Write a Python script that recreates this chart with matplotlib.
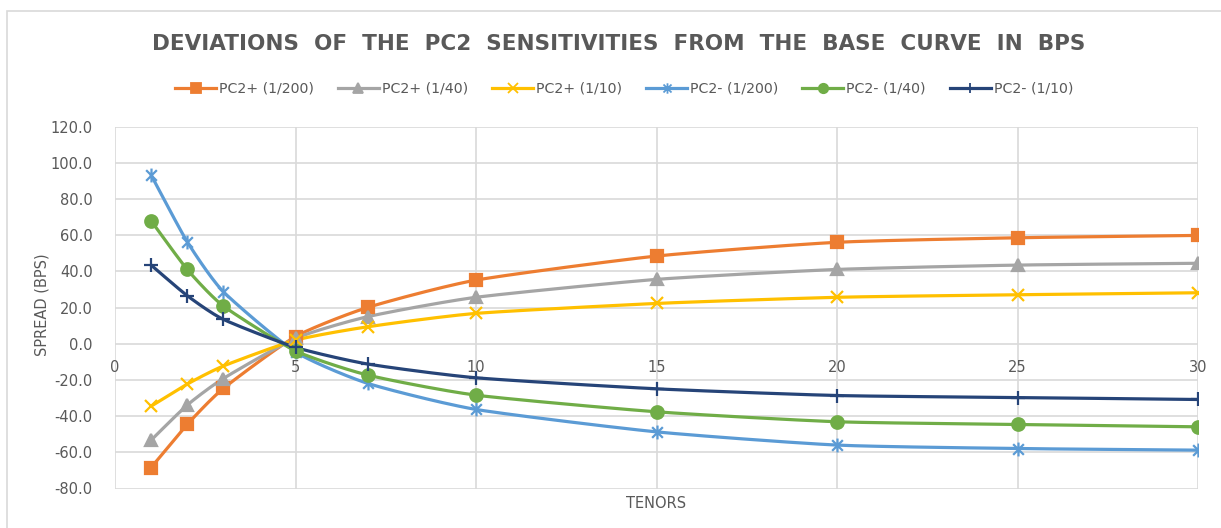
import numpy as np
import matplotlib
matplotlib.use("Agg")
import matplotlib.pyplot as plt
from matplotlib.lines import Line2D
from matplotlib.path import Path
from matplotlib.patches import Rectangle

# data
tenors = [1, 2, 3, 5, 7, 10, 15, 20, 25, 30]
pc2_up_200 = [-68.4, -44.6, -24.7, 4.0, 20.1, 35.2, 48.5, 56.1, 58.6, 59.9]
pc2_up_40 = [-53.3, -33.9, -19.2, 3.0, 15.0, 25.7, 35.6, 41.1, 43.5, 44.5]
pc2_up_10 = [-34.5, -22.3, -12.3, 2.0, 9.4, 16.8, 22.3, 25.7, 27.1, 28.2]
pc2_dn_200 = [93.3, 56.4, 28.8, -4.5, -21.9, -36.3, -48.7, -56.0, -57.9, -58.8]
pc2_dn_40 = [68.0, 41.1, 20.9, -3.9, -17.3, -28.4, -37.6, -43.1, -44.6, -45.9]
pc2_dn_10 = [43.5, 26.6, 13.5, -2.0, -11.2, -18.8, -24.9, -28.6, -29.7, -30.8]

labels = ["PC2+ (1/200)", "PC2+ (1/40)", "PC2+ (1/10)",
          "PC2- (1/200)", "PC2- (1/40)", "PC2- (1/10)"]
series = [pc2_up_200, pc2_up_40, pc2_up_10, pc2_dn_200, pc2_dn_40, pc2_dn_10]

# asterisk marker like excel's star (x plus vertical bar)
star = Path([(-1, -1), (1, 1), (-1, 1), (1, -1), (0, -1.3), (0, 1.3)],
            [Path.MOVETO, Path.LINETO, Path.MOVETO, Path.LINETO, Path.MOVETO, Path.LINETO])

colors = ["#ED7D31", "#A5A5A5", "#FFC000", "#5B9BD5", "#70AD47", "#264478"]
markers = ["s", "^", "x", star, "o", "+"]
msizes = [9, 9, 9, 10, 9, 10]

TXT = "#595959"
GRID = "#D9D9D9"


def smooth(xs, ys, sx=36.1, sy=1.808, n=24, k=10.):
	# bezier smoothing similar to excel's "smoothed line"
	P = np.column_stack([np.asarray(xs, float) * sx, np.asarray(ys, float) * sy])
	out = []
	m = len(P)
	for i in range(m - 1):
		p0 = P[max(i - 1, 0)]
		p1 = P[i]
		p2 = P[i + 1]
		p3 = P[min(i + 2, m - 1)]
		c1 = p1 + (p2 - p0) / k
		c2 = p2 - (p3 - p1) / k
		t = np.linspace(0, 1, n)[:, None]
		seg = (1 - t)**3 * p1 + 3 * (1 - t)**2 * t * c1 + 3 * (1 - t) * t**2 * c2 + t**3 * p2
		out.append(seg if i == 0 else seg[1:])
	out = np.vstack(out)
	return out[:, 0] / sx, out[:, 1] / sy


fig = plt.figure(figsize=(12.21, 5.28), dpi=100)
fig.patches.append(Rectangle((7.5 / 1221, -0.1), 1.2, 1.1 - 11 / 528, transform=fig.transFigure,
                             fill=False, edgecolor=GRID, linewidth=1.2))

ax = fig.add_axes([115 / 1221, 1 - 488.5 / 528, (1198 - 115) / 1221, (488.5 - 126.7) / 528])

handles = []
for ys, c, mk, ms, lab in zip(series, colors, markers, msizes, labels):
	sx_, sy_ = smooth(tenors, ys)
	ax.plot(sx_, sy_, color=c, lw=2.3, zorder=3, solid_capstyle="round")
	ax.plot(tenors, ys, ls="none", marker=mk, ms=ms, color=c, mec=c, mfc=c, mew=1.6, zorder=4)
	handles.append(Line2D([0], [0], color=c, lw=2.3, marker=mk, ms=ms * 0.75, mec=c, mfc=c, mew=1.3))

ax.set_xlim(0, 30)
ax.set_ylim(-80, 120)
ax.set_xticks([0, 5, 10, 15, 20, 25, 30])
ax.set_yticks(np.arange(-80, 121, 20))
ax.yaxis.set_major_formatter(matplotlib.ticker.FormatStrFormatter("%.1f"))
ax.grid(True, color=GRID, lw=1.2, zorder=0)
ax.set_axisbelow(True)
for s in ax.spines.values():
	s.set_visible(False)
ax.spines["bottom"].set_position(("data", 0))
ax.tick_params(axis="both", length=0, colors=TXT, labelsize=10.5)
ax.tick_params(axis="x", pad=12)
ax.tick_params(axis="y", pad=16)

fig.text(42 / 1221, 1 - 305 / 528, "SPREAD (BPS)", rotation=90, color=TXT, fontsize=10.5,
         ha="center", va="center")
fig.text(656 / 1221, 1 - 503 / 528, "TENORS", color=TXT, fontsize=10.5, ha="center", va="center")
fig.text(619 / 1221, 1 - 44 / 528, "DEVIATIONS  OF  THE  PC2  SENSITIVITIES  FROM  THE  BASE  CURVE  IN  BPS",
         color=TXT, fontsize=15.5, fontweight="bold", ha="center", va="center")

fig.legend(handles, labels, loc="center", bbox_to_anchor=(624 / 1221, 1 - 89 / 528), ncol=6,
           frameon=False, fontsize=10.2, labelcolor=TXT, handlelength=2.9, columnspacing=1.7,
           handletextpad=0.2)

fig.savefig("out.png", dpi=100)
